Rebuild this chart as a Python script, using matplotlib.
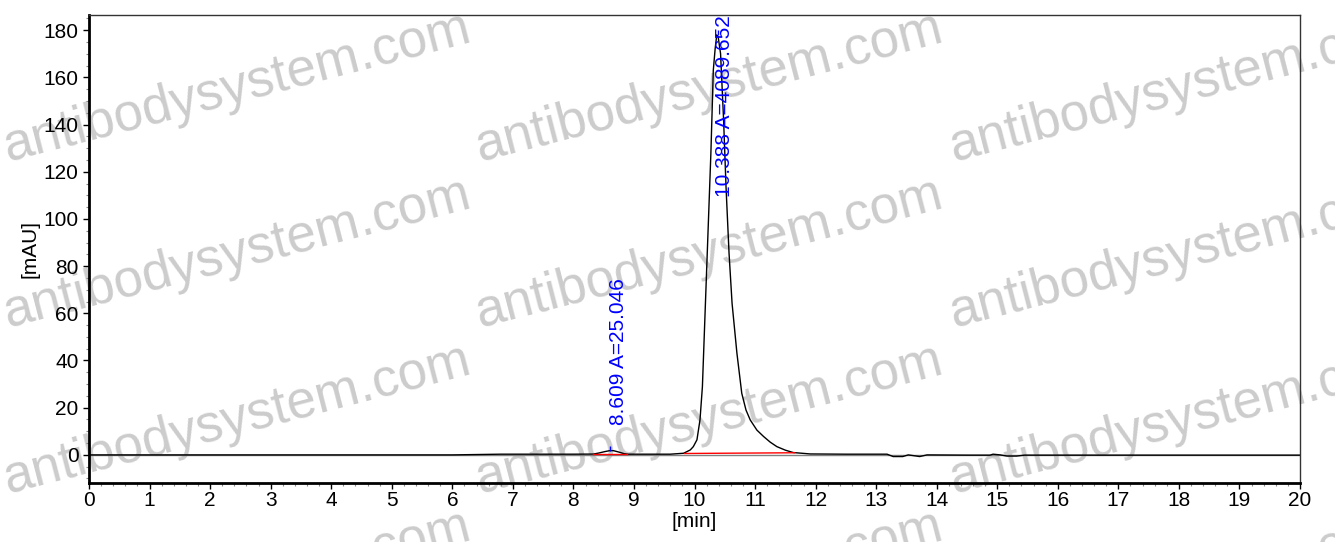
import matplotlib
matplotlib.use("Agg")
import matplotlib.pyplot as plt
from matplotlib.ticker import MultipleLocator

plt.rcParams['font.family'] = ['Liberation Sans', 'DejaVu Sans']

# chromatogram
time_min = [0.0, 6.0, 6.8, 7.5, 8.0, 8.33, 8.42, 8.52, 8.60, 8.66, 8.75, 8.84, 8.90,
            9.3, 9.6, 9.82, 9.93, 9.98, 10.04, 10.09, 10.13, 10.17, 10.22, 10.27,
            10.31, 10.34, 10.367, 10.39, 10.43, 10.48, 10.52, 10.57, 10.62, 10.70,
            10.78, 10.85, 10.92, 11.03, 11.14, 11.25, 11.36, 11.50, 11.63, 11.91,
            12.5, 13.18, 13.28, 13.44, 13.53, 13.72, 13.84, 14.5, 14.88, 14.93,
            15.05, 15.16, 15.32, 15.45, 16.0, 20.0]
signal_mau = [0.0, 0.0, 0.3, 0.3, 0.3, 0.35, 0.8, 1.4, 1.8, 1.8, 1.2, 0.5, 0.3,
              0.3, 0.3, 0.7, 2.1, 3.5, 6.4, 14.8, 28.9, 57.2, 92.5, 127.8,
              163.0, 172.0, 178.0, 177.2, 170.0, 141.9, 113.6, 85.4, 64.2, 43.1,
              26.1, 19.0, 14.8, 10.5, 7.8, 5.4, 3.5, 2.0, 1.0, 0.4,
              0.3, 0.3, -0.7, -0.7, 0.0, -0.7, 0.0, -0.1, -0.1, 0.3,
              0.0, -0.5, -0.5, -0.1, -0.1, -0.1]

# integration baselines (start, end)
base_t0 = [8.33, 9.84]
base_t1 = [8.88, 11.65]
base_y0 = [0.3, 0.6]
base_y1 = [0.3, 0.9]

# peak labels
peak_rt = [8.609, 10.388]
peak_area = [25.046, 4089.652]
peak_apex = [1.8, 178.0]
label_x = [8.74, 10.50]
label_y = [12.7, 109.3]

x_ticks = list(range(0, 21))
y_ticks = list(range(0, 181, 20))

fig = plt.figure(figsize=(13.35, 5.42), dpi=100)
ax = fig.add_axes([0.0667, 0.1089, 0.9071, 0.8634])
ax.patch.set_alpha(0)
ax.set_zorder(2)

# watermark
wm_x = [237, 709, 1183]
wm_y = [88, 254, 420, 586]
for cx in wm_x:
    for cy in wm_y:
        fig.text(cx / 1335, 1 - cy / 542, "antibodysystem.com", fontsize=38,
                 color='#cccccc', rotation=14.5, ha='center', va='center',
                 rotation_mode='anchor', zorder=1)

ax.axhline(0, color='#808080', lw=1.0, zorder=1)
ax.plot(time_min, signal_mau, color='black', lw=1.0, zorder=2)
for a, b, c, d in zip(base_t0, base_t1, base_y0, base_y1):
    ax.plot([a, b], [c, d], color='#ff0000', lw=1.0, zorder=3)

for rt, area, ap, lx, ly in zip(peak_rt, peak_area, peak_apex, label_x, label_y):
    ax.vlines(rt, ap, ap + 2.0, color='blue', lw=1.0, zorder=4)
    ax.text(lx, ly, f"{rt:.3f} A={area:.3f}", rotation=90, color='blue',
            fontsize=15, ha='center', va='bottom', clip_on=False, zorder=5)

ax.set_xlim(0, 20)
ax.set_ylim(-11.9, 186.4)
ax.set_xticks(x_ticks)
ax.set_yticks(y_ticks)
ax.xaxis.set_minor_locator(MultipleLocator(0.2))
ax.yaxis.set_minor_locator(MultipleLocator(5))
ax.tick_params(axis='both', which='major', labelsize=15, length=4, width=1,
               direction='out', colors='black')
ax.tick_params(axis='both', which='minor', length=2, width=0.8, color='#888888')
ax.tick_params(axis='x', pad=2)

for s in ['left', 'bottom']:
    ax.spines[s].set_linewidth(2.0)
    ax.spines[s].set_color('black')
for s in ['top', 'right']:
    ax.spines[s].set_linewidth(1.0)
    ax.spines[s].set_color('#333333')

ax.set_xlabel("[min]", fontsize=15, labelpad=1)
ax.set_ylabel("[mAU]", fontsize=15, labelpad=3)

fig.savefig("out.png", dpi=100)
